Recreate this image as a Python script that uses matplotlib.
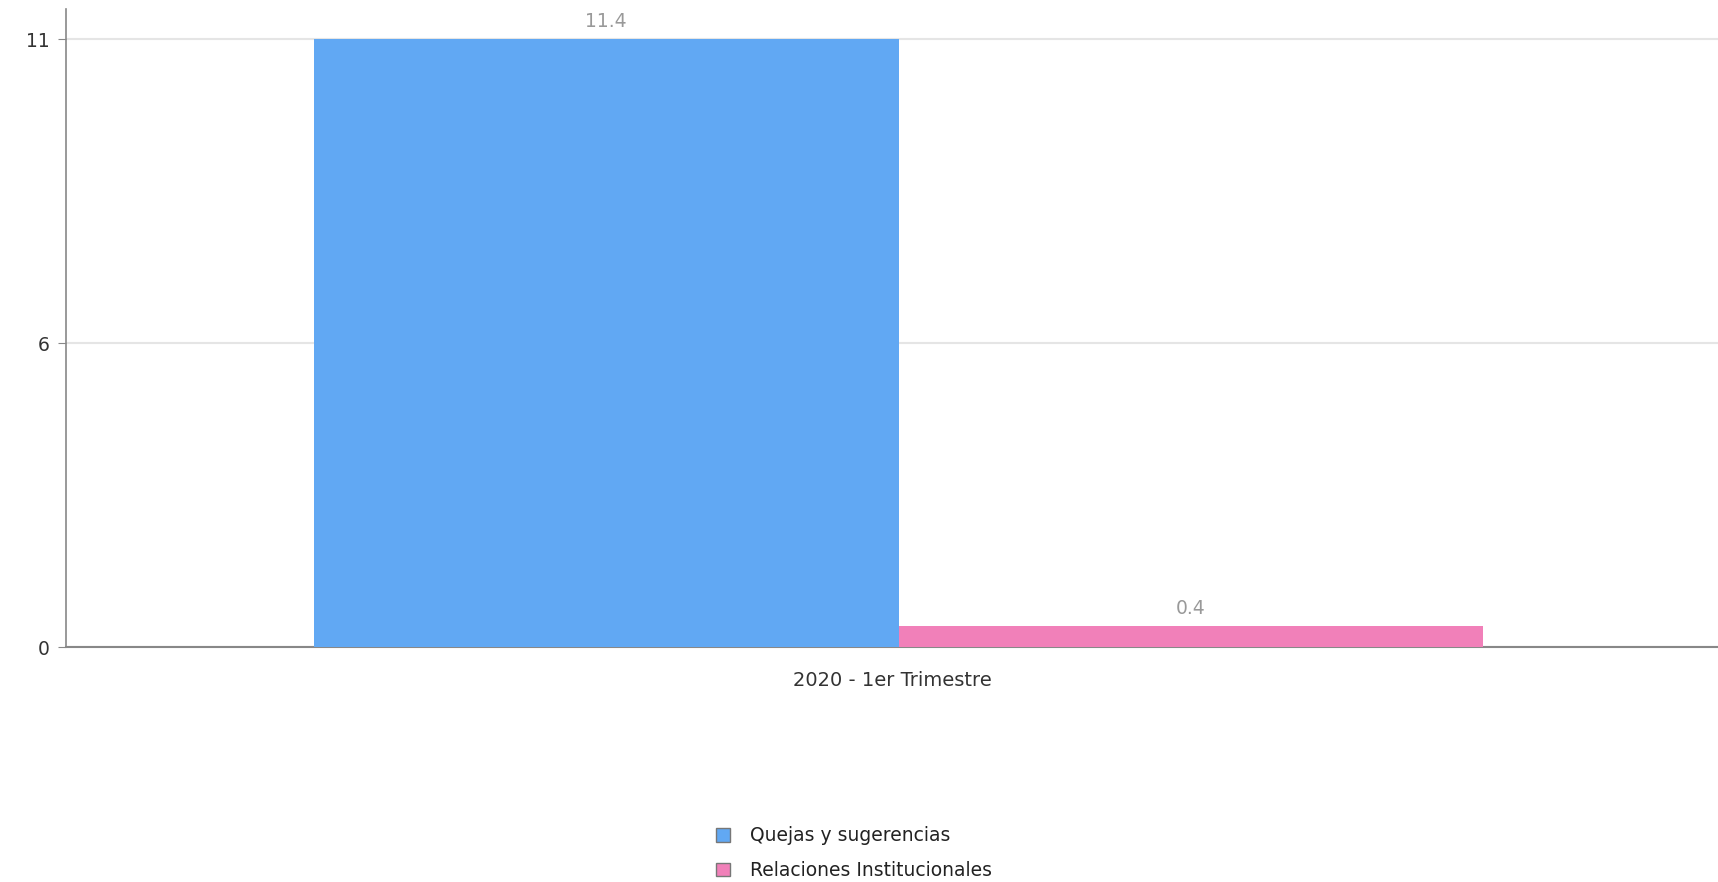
import numpy as np
import matplotlib.pyplot as plt
from matplotlib.patches import Patch

# Data
categories = ['2020 - 1er Trimestre']
series_names = ['Quejas y sugerencias', 'Relaciones Institucionales']
series_values = [[11.4], [0.4]]
colors = ['#61a8f3', '#f180b9']

fig = plt.figure(figsize=(17.18, 8.82), dpi=100)
ax = fig.add_axes([0.0384, 0.266, 0.9616, 0.724])

x = np.arange(len(categories))
width = 0.354
offsets = [-width / 2, width / 2]
for vals, off, col in zip(series_values, offsets, colors):
    bars = ax.bar(x + off + 0.004, vals, width=width, color=col, zorder=3)
    for b, v in zip(bars, vals):
        ax.text(b.get_x() + b.get_width() / 2, v + 0.15, f'{v}', ha='center', va='bottom',
                fontsize=13.5, color='#999999', zorder=4)

# y axis: ticks at 0, half max, max (labels rounded)
vmax = max(max(v) for v in series_values)
yticks = [0, vmax / 2, vmax]
ax.set_yticks(yticks)
ax.set_yticklabels([f'{t:.0f}' for t in yticks])
ax.set_ylim(0, 11.97)
ax.set_xlim(-0.5, 0.5)
ax.set_xticks(x)
ax.set_xticklabels(categories)

ax.grid(axis='y', color='#e5e5e5', linewidth=1.5, zorder=0)
for s in ['top', 'right']:
    ax.spines[s].set_visible(False)
ax.spines['left'].set_color('#888888')
ax.spines['bottom'].set_color('#888888')
ax.spines['left'].set_linewidth(1.2)
ax.spines['bottom'].set_linewidth(1.5)
ax.tick_params(axis='y', length=6, color='#888888', labelsize=13.5, labelcolor='#333333', pad=6)
ax.tick_params(axis='x', length=0, labelsize=14, labelcolor='#333333', pad=17)

handles = [Patch(facecolor=c, edgecolor='#777777', label=n) for c, n in zip(colors, series_names)]
leg = fig.legend(handles=handles, loc='lower center', bbox_to_anchor=(0.497, -0.017), frameon=False,
                 fontsize=13.5, handlelength=0.75, handleheight=0.75, handletextpad=1.1, labelspacing=0.85)
for t in leg.get_texts():
    t.set_color('#222222')

fig.savefig('out.png', dpi=100)
